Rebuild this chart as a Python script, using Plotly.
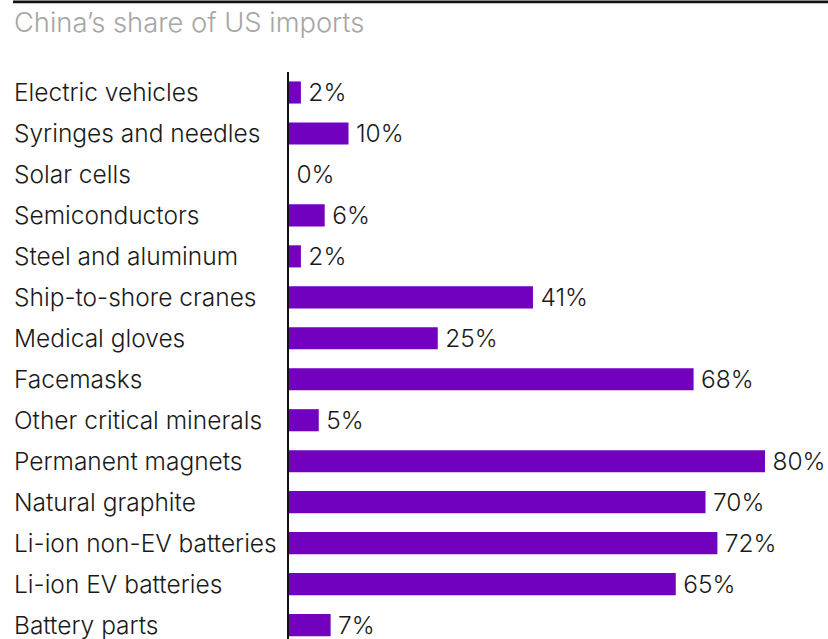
import plotly.graph_objects as go

categories = [
    "Electric vehicles", "Syringes and needles", "Solar cells", "Semiconductors",
    "Steel and aluminum", "Ship-to-shore cranes", "Medical gloves", "Facemasks",
    "Other critical minerals", "Permanent magnets", "Natural graphite",
    "Li-ion non-EV batteries", "Li-ion EV batteries", "Battery parts",
]
shares = [2, 10, 0, 6, 2, 41, 25, 68, 5, 80, 70, 72, 65, 7]

W, H = 828, 639
ML, MT = 289, 71.5
plot_w = W - ML
FONT = "Inter"
BAR = "#7100BF"
LBL = dict(family=FONT, size=24.5, color="#1a1a1a", weight=300)

fig = go.Figure(go.Bar(
    y=categories, x=shares, orientation="h",
    marker=dict(color=BAR, line=dict(width=0)),
    width=0.54,
    text=[f"\u2009{v}%" for v in shares], textposition="outside",
    constraintext="none",
    textfont=LBL,
    cliponaxis=False, hoverinfo="skip",
))

# category names, left aligned in the left margin
for c in categories:
    fig.add_annotation(x=(12 - ML) / plot_w, xref="paper", y=c, yref="y",
                       text=c, showarrow=False, xanchor="left", yanchor="middle",
                       font=LBL)

fig.add_annotation(x=(12 - ML) / plot_w, xref="paper", y=(H - 22) / (H - MT),
                   yref="paper", text="China’s share of US imports", showarrow=False,
                   xanchor="left", yanchor="middle",
                   font=dict(family=FONT, size=27.3, color="#a6a6a6", weight=300))

# top rule
fig.add_shape(type="line", xref="paper", yref="paper",
              x0=(13 - ML) / plot_w, x1=1, y0=(H - 1.3) / (H - MT), y1=(H - 1.3) / (H - MT),
              line=dict(color="#111111", width=2.7))

fig.update_layout(
    width=W, height=H,
    margin=dict(l=ML, r=0, t=MT, b=0),
    paper_bgcolor="white", plot_bgcolor="white",
    showlegend=False,
    xaxis=dict(range=[0, plot_w / 5.95], visible=False, fixedrange=True),
    yaxis=dict(range=[13.34, -0.5], showticklabels=False, ticks="",
               showgrid=False, zeroline=False,
               showline=True, linecolor="#111111", linewidth=2, fixedrange=True),
)

fig.write_html("out.html")
